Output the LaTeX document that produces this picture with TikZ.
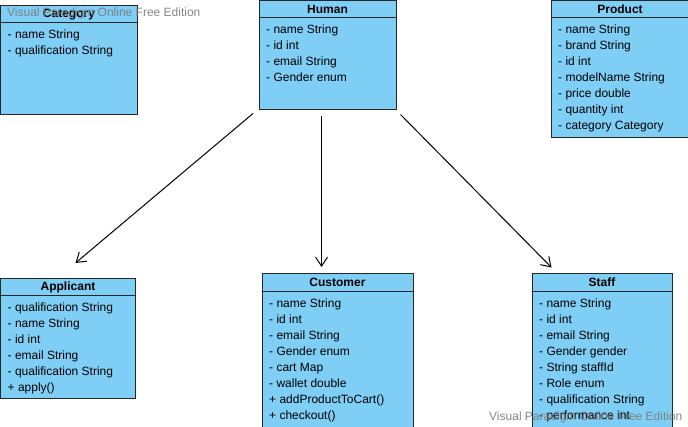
\documentclass[tikz,border=0pt]{standalone}
\usepackage{fontspec}
\setmainfont{Liberation Sans}
\usetikzlibrary{arrows.meta,calc}
\definecolor{boxfill}{HTML}{7FCEF5}
\definecolor{wm}{HTML}{7A7A7A}
\newcommand{\umlclass}[8]{%
  \node[classbox, minimum width=#4pt, minimum height=#5pt] (#1) at (#2,#3) {};
  \draw[sepline] ($(#1.north west)+(0,#6)$) -- ($(#1.north east)+(0,#6)$);
  \node[titletext] (#1-title) at ($(#1.north)+(0,#6/2+4.3)$) {#7};
  \foreach \t [count=\i] in {#8} {\node[attr] (#1-a\i) at ($(#1.north west)+(7,#6+16*\i)$) {\t};}
}
\begin{document}
\begin{tikzpicture}[x=1pt,y=-1pt,
  classbox/.style={draw=black!85, fill=boxfill, line width=0.9pt, anchor=north west, inner sep=0pt, outer sep=0pt},
  sepline/.style={draw=black!85, line width=0.9pt},
  titletext/.style={font=\bfseries\fontsize{12}{14}\selectfont, anchor=base, inner sep=0pt},
  attr/.style={font=\fontsize{12}{14}\selectfont, anchor=base west, inner sep=0pt},
  wmark/.style={font=\fontsize{12}{14}\selectfont, text=wm, anchor=base west, inner sep=0pt},
  inh/.style={draw=black, line width=1pt, -{Straight Barb[length=9pt,width=12pt]}}]
\useasboundingbox (0,0) rectangle (688,426);
\clip (0,0) rectangle (688,426);
\umlclass{category}{0.5}{5}{137}{109}{17}{Category}{- name String,- qualification String}
\umlclass{human}{259}{0.5}{137}{109}{17}{Human}{- name String,- id int,- email String,- Gender enum}
\umlclass{product}{551}{0.5}{138}{137}{17}{Product}{- name String,- brand String,- id int,- modelName String,- price double,- quantity int,- category Category}
\umlclass{applicant}{0.5}{278}{135}{120}{17}{Applicant}{- qualification String,- name String,- id int,- email String,- qualification String,+ apply()}
\umlclass{customer}{262}{273}{151}{170}{18}{Customer}{- name String,- id int,- email String,- Gender enum,- cart Map,- wallet double,+ addProductToCart(),+ checkout()}
\umlclass{staff}{532}{273}{140}{170}{18}{Staff}{- name String,- id int,- email String,- Gender gender,- String staffId,- Role enum,- qualification String,- performance int}
\draw[inh] ($(human.south west)+(-6,4)$) -- ($(applicant.north)+(7.5,-15)$);
\draw[inh] ($(human.south)+(-6,6)$) -- ($(customer.north)+(-16,-6)$);
\draw[inh] ($(human.south east)+(4.5,5)$) -- ($(staff.north west)+(19.5,-5.5)$);
\node[wmark, opacity=0.9] (wm1) at (7,16.5) {Visual Paradigm Online Free Edition};
\node[wmark, opacity=0.9] (wm2) at (489,420.5) {Visual Paradigm Online Free Edition};
\end{tikzpicture}
\end{document}
